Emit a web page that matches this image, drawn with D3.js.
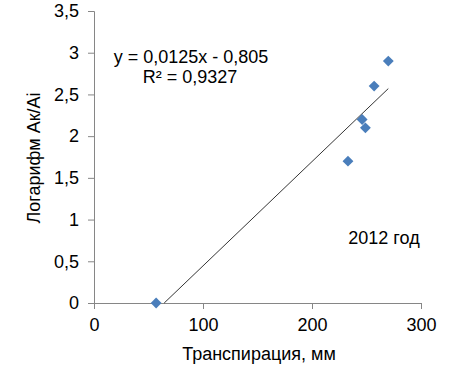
<!DOCTYPE html>
<html lang="ru">
<head>
<meta charset="UTF-8">
<script src="https://d3js.org/d3.v7.min.js"></script>
<style>
  body { margin: 0; background: #fff; }
  text { font-family: "Liberation Sans", Arial, sans-serif; fill: #000; }
</style>
</head>
<body>
<div id="chart"></div>
<script>
// data
const transp = [57, 233, 246, 249, 257, 270];
const logAk = [0, 1.7, 2.2, 2.1, 2.6, 2.9];
const xTicks = [0, 100, 200, 300];
const yTicks = [0, 0.5, 1, 1.5, 2, 2.5, 3, 3.5];
const slope = 0.0125, intercept = -0.805;

const W = 450, H = 383;
const margin = {top: 11, right: 29, bottom: 80, left: 94};
const width = W - margin.left - margin.right,
      height = H - margin.top - margin.bottom;

const svg = d3.select("#chart").append("svg")
    .attr("width", W).attr("height", H);
const g = svg.append("g")
    .attr("transform", `translate(${margin.left},${margin.top})`);

const x = d3.scaleLinear().domain([0, 300]).range([0, width]);
const y = d3.scaleLinear().domain([0, 3.5]).range([height, 0]);
const fmt = d => String(d).replace(".", ",");

// axes
const xAxis = g.append("g")
    .attr("transform", `translate(0,${height})`)
    .call(d3.axisBottom(x).tickValues(xTicks).tickFormat(fmt).tickSize(6));
const yAxis = g.append("g")
    .call(d3.axisLeft(y).tickValues(yTicks).tickFormat(fmt).tickSize(6));

[xAxis, yAxis].forEach(a => {
  a.attr("font-size", null).attr("font-family", null);
  a.select(".domain").attr("stroke", "#868686");
  a.selectAll(".tick line").attr("stroke", "#868686");
  a.selectAll(".tick text").style("font-size", "18px").attr("fill", "#000");
});
xAxis.selectAll(".tick text").attr("dy", "1.05em");
yAxis.selectAll(".tick text").attr("x", -15);

// trend line
const x0 = -intercept / slope, x1 = d3.max(transp);
g.append("line")
    .attr("x1", x(x0)).attr("y1", y(slope * x0 + intercept))
    .attr("x2", x(x1)).attr("y2", y(slope * x1 + intercept))
    .attr("stroke", "#000").attr("stroke-width", 0.8);

// points
const pts = transp.map((t, i) => ({t, v: logAk[i]}));
g.selectAll("path.pt").data(pts).enter().append("path")
    .attr("class", "pt")
    .attr("d", d3.symbol().type(d3.symbolDiamond2).size(75))
    .attr("transform", d => `translate(${x(d.t)},${y(d.v)})`)
    .attr("fill", "#4a7ebb");

// labels
const lbl = (px, py, s) => svg.append("text").attr("x", px).attr("y", py)
    .attr("text-anchor", "middle").style("font-size", "18px").text(s);
lbl(191, 63, "y = 0,0125x - 0,805");
lbl(190, 83, "R² = 0,9327");
lbl(384, 244, "2012 год");
lbl(259, 360, "Транспирация, мм");
svg.append("text")
    .attr("transform", `translate(40,${margin.top + height / 2 + 1}) rotate(-90)`)
    .attr("text-anchor", "middle").style("font-size", "18px")
    .text("Логарифм Ак/Аі");
</script>
</body>
</html>
